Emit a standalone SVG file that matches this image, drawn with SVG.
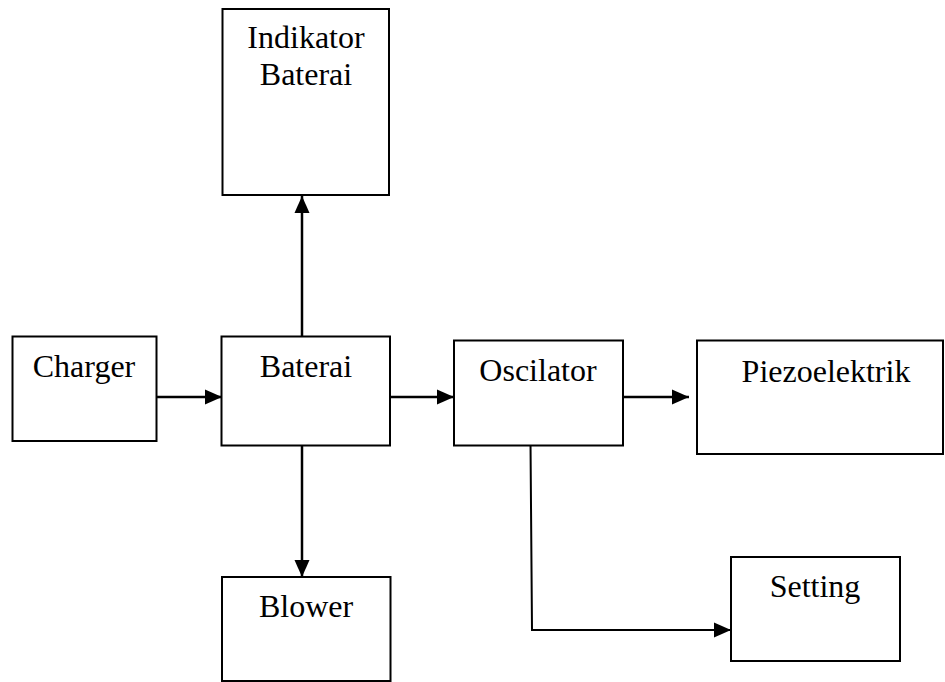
<svg xmlns="http://www.w3.org/2000/svg" width="945" height="682" viewBox="0 0 945 682">
<defs>
<style>
.box{fill:#fff;stroke:#000;stroke-width:2}
.lbl{font-family:"Liberation Serif","Times New Roman",serif;font-size:32px;fill:#000;text-anchor:middle}
.con{fill:none;stroke:#000;stroke-width:2.5}
.thin{stroke-width:2}
</style>
<marker id="ah" markerUnits="userSpaceOnUse" markerWidth="17" markerHeight="17" viewBox="0 0 17 17" refX="17" refY="8.5" orient="auto">
<path d="M0,1 L17,8.5 L0,16 Z" fill="#000"/>
</marker>
</defs>
<rect width="945" height="682" fill="#fff"/>
<g id="connectors">
<line class="con" x1="156" y1="397" x2="222" y2="397" marker-end="url(#ah)"/>
<line class="con" x1="390" y1="397" x2="454" y2="397" marker-end="url(#ah)"/>
<line class="con" x1="623" y1="397" x2="689" y2="397" marker-end="url(#ah)"/>
<line class="con" x1="302" y1="337" x2="302" y2="196" marker-end="url(#ah)"/>
<line class="con" x1="302" y1="445" x2="302" y2="577" marker-end="url(#ah)"/>
<polyline class="con thin" points="530.5,442 532,630 731,630" marker-end="url(#ah)"/>
</g>
<g id="indikator">
<rect class="box" x="222.5" y="9" width="166.5" height="186"/>
<text class="lbl" x="306" y="48">Indikator</text>
<text class="lbl" x="306" y="85">Baterai</text>
</g>
<g id="charger">
<rect class="box" x="12.5" y="336.5" width="144" height="104.5"/>
<text class="lbl" x="84" y="377">Charger</text>
</g>
<g id="baterai">
<rect class="box" x="221.5" y="336.5" width="168.5" height="109"/>
<text class="lbl" x="306" y="377">Baterai</text>
</g>
<g id="oscilator">
<rect class="box" x="454" y="340.5" width="169" height="105"/>
<text class="lbl" x="538" y="381">Oscilator</text>
</g>
<g id="piezoelektrik">
<rect class="box" x="697" y="340.5" width="246" height="113.5"/>
<text class="lbl" x="826" y="381.5">Piezoelektrik</text>
</g>
<g id="blower">
<rect class="box" x="222" y="577" width="168.5" height="104"/>
<text class="lbl" x="306" y="617">Blower</text>
</g>
<g id="setting">
<rect class="box" x="731" y="557" width="169" height="104"/>
<text class="lbl" x="815" y="597">Setting</text>
</g>
</svg>
